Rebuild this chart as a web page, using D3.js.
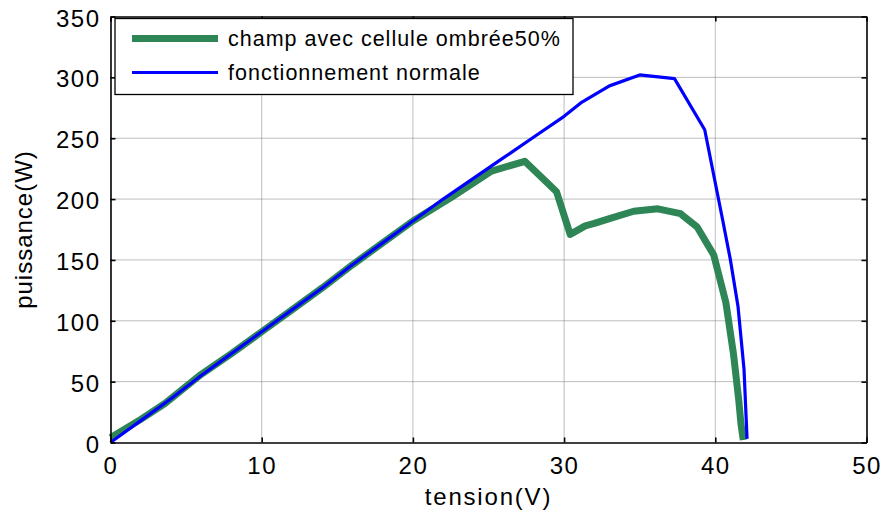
<!DOCTYPE html>
<html><head><meta charset="utf-8">
<script src="https://cdn.jsdelivr.net/npm/d3@7"></script>
<style>
body{margin:0;background:#fff;}
text{font-family:"Liberation Sans",Arial,sans-serif;fill:#000;}
</style></head>
<body><svg id="c" width="884" height="517"></svg>
<script>
const xTicks = [0,10,20,30,40,50];
const yTicks = [0,50,100,150,200,250,300,350];
const seriesNames = ["champ avec cellule ombrée50%", "fonctionnement normale"];
const shadedV = [0,2,3.6,6,8,10,12,14,16,18,20,22.5,25.2,27.4,29.5,30.4,31.4,32,33,34.6,36.2,37.7,38.8,39.9,40.7,41.2,41.55,41.7,41.85];
const shadedP = [4,19,32,56,73,91,109,127,146,164,182,201,223,231,206,171,178,180,184,190,192,188,177,154,115,73,35,15,2];
const normalV = [0,2,4,6,8,10,12,14,16,18,20,22,24,26,28,30,31.1,33,35,37.3,39.3,40.5,41,41.5,41.9,42.1];
const normalP = [0,18,36,55,73,91,109,127,146,164,182,200,217,234,251,268,279,293,302,299,257,182,150,112,60,3];

const svg = d3.select("#c");
const L=110.5, R=866.5, T=16.5, B=442.5;
const x = d3.scaleLinear().domain([0,50]).range([L,R]);
const y = d3.scaleLinear().domain([0,350]).range([B,T]);

// grid
const g = svg.append("g");
g.selectAll(".gx").data(xTicks.slice(1,-1)).enter().append("line")
 .attr("x1",d=>x(d)).attr("x2",d=>x(d)).attr("y1",T).attr("y2",B)
 .attr("stroke","#7a7a7a").attr("stroke-width",1).attr("stroke-dasharray","1,1");
g.selectAll(".gy").data(yTicks.slice(1,-1)).enter().append("line")
 .attr("y1",d=>y(d)).attr("y2",d=>y(d)).attr("x1",L).attr("x2",R)
 .attr("stroke","#7a7a7a").attr("stroke-width",1).attr("stroke-dasharray","1,1");

// lines
const line = d3.line().x(d=>x(d[0])).y(d=>y(d[1]));
svg.append("path").datum(shadedV.map((v,i)=>[v,shadedP[i]]))
 .attr("d",line).attr("fill","none").attr("stroke","#2e8656").attr("stroke-width",7).attr("stroke-linejoin","round");
svg.append("path").datum(normalV.map((v,i)=>[v,normalP[i]]))
 .attr("d",line).attr("fill","none").attr("stroke","#0000ff").attr("stroke-width",3.2).attr("stroke-linejoin","round");

// axes
const fs = "24px";
const xb = svg.append("g").attr("transform",`translate(0,${B})`)
 .call(d3.axisBottom(x).tickValues(xTicks).tickSizeInner(-5).tickSizeOuter(0).tickPadding(14));
const xt = svg.append("g").attr("transform",`translate(0,${T})`)
 .call(d3.axisTop(x).tickValues(xTicks).tickSizeInner(-5).tickSizeOuter(0).tickFormat(""));
const yl = svg.append("g").attr("transform",`translate(${L},0)`)
 .call(d3.axisLeft(y).tickValues(yTicks).tickSizeInner(-5).tickSizeOuter(0).tickPadding(10));
const yr = svg.append("g").attr("transform",`translate(${R},0)`)
 .call(d3.axisRight(y).tickValues(yTicks).tickSizeInner(-5).tickSizeOuter(0).tickFormat(""));
[xb,xt,yl,yr].forEach(a=>{
  a.select(".domain").attr("stroke","#000").attr("stroke-width",1.6);
  a.selectAll(".tick line").attr("stroke","#000").attr("stroke-width",1.6);
  a.selectAll("text").attr("font-size",fs).attr("font-family","Liberation Sans, Arial, sans-serif").attr("fill","#000").style("letter-spacing","1.5px");
});
yl.selectAll("text").attr("dy","0.4em");
xb.selectAll("text").attr("dy","0.71em").attr("y",14);

// axis labels
svg.append("text").attr("x",(L+R)/2).attr("y",505).attr("text-anchor","middle")
 .attr("font-size",fs).style("letter-spacing","1.8px").text("tension(V)");
svg.append("text").attr("transform",`translate(32,${(T+B)/2}) rotate(-90)`).attr("text-anchor","middle")
 .attr("font-size",fs).style("letter-spacing","1px").text("puissance(W)");

// legend
const lg = svg.append("g");
lg.append("rect").attr("x",115).attr("y",18.5).attr("width",458).attr("height",76)
 .attr("fill","#fff").attr("stroke","#000").attr("stroke-width",1.3);
const lcol = ["#2e8656","#0000ff"], lw=[7,3], ly=[38.5,72.5];
seriesNames.forEach((n,i)=>{
  lg.append("line").attr("x1",132).attr("x2",218).attr("y1",ly[i]).attr("y2",ly[i])
    .attr("stroke",lcol[i]).attr("stroke-width",lw[i]);
  lg.append("text").attr("x",228).attr("y",ly[i]+7.5).attr("font-size","21.5px")
    .style("letter-spacing","1px").text(n);
});
</script></body></html>
